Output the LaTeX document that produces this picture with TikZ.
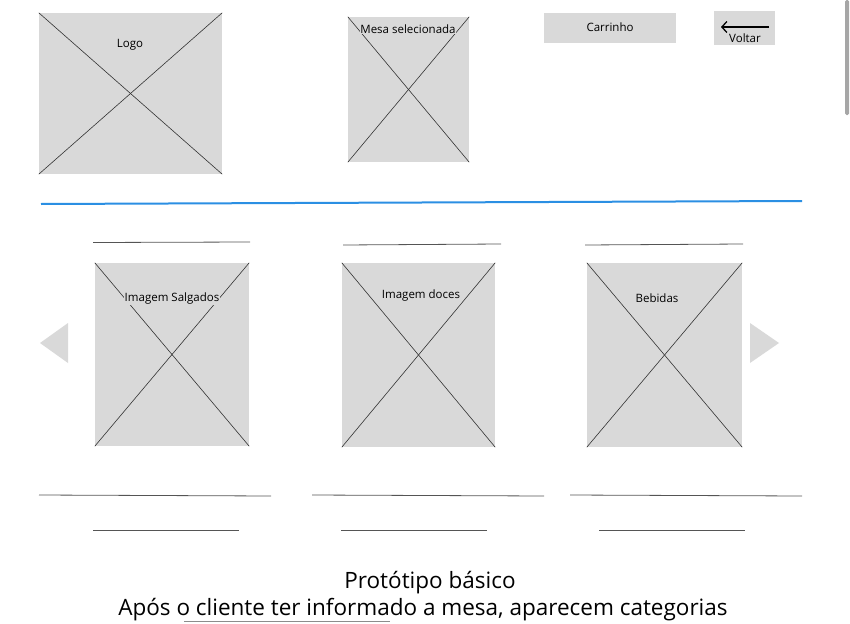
\documentclass[tikz,border=0pt]{standalone}
\usepackage{fontspec}
\setmainfont{Open Sans}
\usetikzlibrary{positioning,arrows.meta}
\definecolor{boxgray}{HTML}{D9D9D9}
\definecolor{barblue}{HTML}{2B8FE3}
\definecolor{linegray}{HTML}{555555}

\begin{document}
\begin{tikzpicture}[x=1pt,y=-1pt,
  img box/.style={rectangle,fill=boxgray,inner sep=0pt},
  cross/.style={draw=black!80,line width=0.6pt},
  label/.style={font=\fontsize{11.5}{13}\selectfont,inner sep=0pt},
  rule/.style={draw=linegray,line width=0.8pt}]
\useasboundingbox (0,0) rectangle (850,623);

% Header
  \node[img box,minimum width=183pt,minimum height=161pt] (logo) at (130.5,93.5) {};
  \node[img box,minimum width=121pt,minimum height=145pt] (mesa) at (408.5,89.5) {};
  \node[img box,minimum width=132pt,minimum height=30pt] (carrinho) at (610,28) {};
  \node[img box,minimum width=61pt,minimum height=34pt] (voltar) at (744.5,28) {};

  \draw[cross] (logo.north west) -- (logo.south east);
  \draw[cross] (logo.south west) -- (logo.north east);
  \draw[cross] (mesa.north west) -- (mesa.south east);
  \draw[cross] (mesa.south west) -- (mesa.north east);

  \node[label] (logo text) at (130,44.5) {Logo};
  \node[label,fill=boxgray,inner sep=0.5pt] (mesa text) at (408,29.5) {Mesa selecionada};
  \node[label] (carrinho text) at (610,27.5) {Carrinho};
  \node[label] (voltar text) at (745,38.5) {Voltar};
  \coordinate (voltar tail) at (769,27);
  \coordinate (voltar head) at (721,27);
  \draw[line width=1.3pt,-{Straight Barb[length=5pt,width=11pt]}] (voltar tail) -- (voltar head);

% scrollbar
  \fill[black!35,rounded corners=1.5pt] (845,0) rectangle (849,115);

% blue separator
  \draw[barblue,line width=2pt] (41,204) -- (802,201);

% categories
  \node[img box,minimum width=154pt,minimum height=183pt] (salgados) at (172,354.5) {};
  \node[img box,minimum width=153pt,minimum height=184pt] (doces) at (418.5,355) {};
  \node[img box,minimum width=155pt,minimum height=184pt] (bebidas) at (664.5,355) {};

  \foreach \b in {salgados,doces,bebidas}{
    \draw[cross] (\b.north west) -- (\b.south east);
    \draw[cross] (\b.south west) -- (\b.north east);
  }

  \node[label,fill=boxgray,inner sep=0.5pt] (salgados text) at (172,298.5) {Imagem Salgados};
  \node[label,fill=boxgray,inner sep=0.5pt] (doces text) at (421,295.5) {Imagem doces};
  \node[label,fill=boxgray,inner sep=0.5pt] (bebidas text) at (657,298.5) {Bebidas};

% arrows left/right
  \fill[boxgray] (40,343) -- (68,323) -- (68,363) -- cycle;
  \fill[boxgray] (750,323) -- (779,343) -- (750,363) -- cycle;

% title lines
  \draw[rule] (93,242.5) -- (250,242);
  \draw[rule] (343,245) -- (501,244);
  \draw[rule] (585,245) -- (743,244);

% text lines
  \draw[rule] (39,495) -- (271,496);
  \draw[rule] (312,495) -- (544,496);
  \draw[rule] (570,495) -- (802,496);
  \draw[rule] (93,530.5) -- (239,530.5);
  \draw[rule] (341,530.5) -- (487,530.5);
  \draw[rule] (599,530.5) -- (745,530.5);

% caption
  \node[font=\fontsize{22.5}{26}\selectfont,inner sep=0pt] (caption1) at (430,583) {Protótipo básico};
  \node[font=\fontsize{22.5}{26}\selectfont,inner sep=0pt] (caption2) at (423,610) {Após o cliente ter informado a mesa, aparecem categorias};
  \draw[draw=black!45,line width=0.8pt] (184,621.5) -- (390,621.5);

\end{tikzpicture}
\end{document}
